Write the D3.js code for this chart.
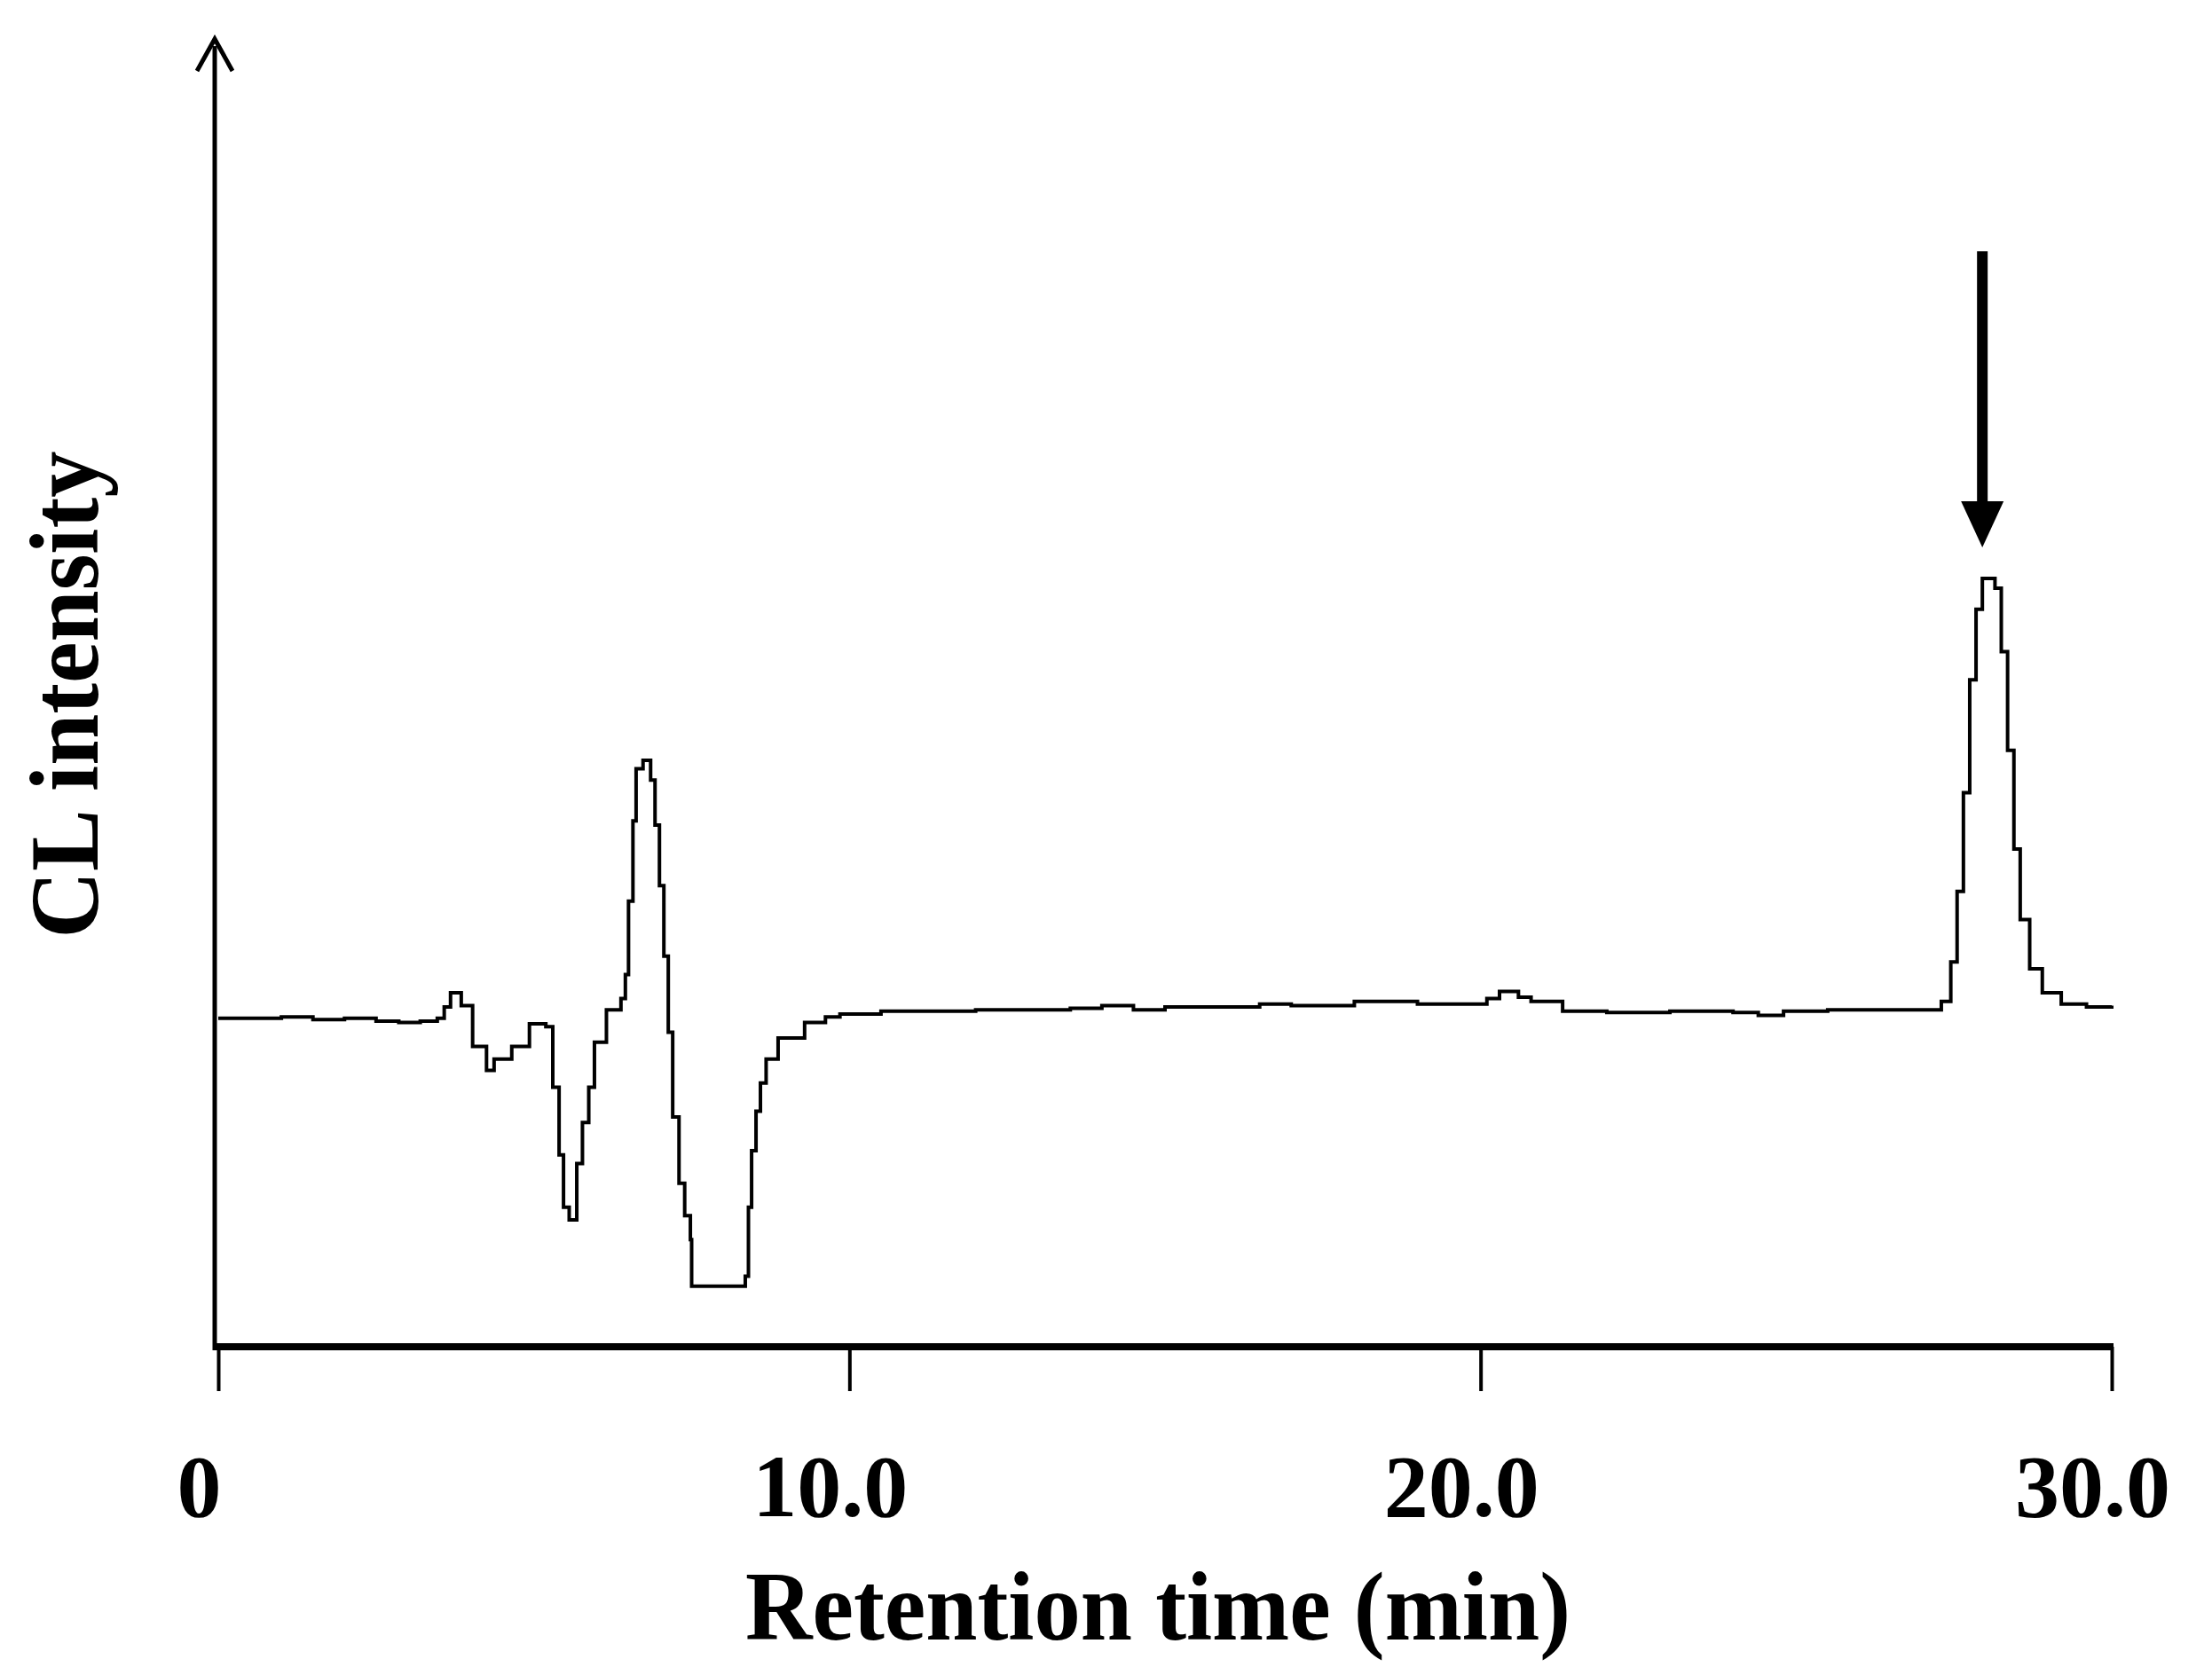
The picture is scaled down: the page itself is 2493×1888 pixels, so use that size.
<!DOCTYPE html>
<html><head><meta charset="utf-8">
<script src="https://cdn.jsdelivr.net/npm/d3@7"></script>
<style>body{margin:0;background:#fff}</style>
</head><body>
<script>
const times = [0,0.5,1,1.5,2,2.5,2.86,3.2,3.47,3.58,3.68,3.85,4.03,4.25,4.37,4.65,4.93,5.19,5.30,5.40,5.47,5.56,5.68,5.77,5.87,5.96,6.15,6.38,6.45,6.50,6.57,6.62,6.73,6.85,6.92,6.99,7.06,7.13,7.20,7.30,7.39,7.48,7.50,8.26,8.35,8.40,8.45,8.52,8.59,8.68,8.87,9.29,9.62,9.85,10.5,11,12,13,13.5,14,14.5,15,16,16.5,17,18,19,19.8,20.1,20.3,20.6,20.8,21.3,22,23,24,24.4,24.8,25.5,26.5,27,27.3,27.45,27.55,27.65,27.75,27.85,27.95,28.05,28.15,28.25,28.35,28.45,28.55,28.7,28.9,29.2,29.6,30];
const intensity = [0,0,1,-1,0,-2,-3,-2,0,8,18,9,-20,-37,-29,-20,-4,-6,-49,-97,-134,-143,-103,-74,-49,-17,6,14,31,83,140,177,183,169,137,94,44,-10,-70,-117,-140,-157,-190,-190,-183,-134,-94,-66,-46,-29,-14,-3,1,3,5,5,6,6,7,9,6,8,8,10,9,12,10,10,14,19,15,12,5,4,5,4,2,5,6,6,6,12,40,90,160,240,290,312,312,305,260,190,120,70,35,18,10,8,9];
const xTicks = [0,10,20,30];
const xTickLabels = ["0","10.0","20.0","30.0"];
const arrowTime = 27.95, arrowFrom = 544, arrowTo = 334;

const W=2493,H=1888;
const svg=d3.select("body").append("svg").attr("width",W).attr("height",H);
const x=d3.scaleLinear().domain([0,30]).range([246,2380]);
const y=d3.scaleLinear().domain([-233,692]).range([1518,48]);
const data=times.map((t,i)=>[t,intensity[i]]);
svg.append("path").datum(data).attr("fill","none").attr("stroke","#000").attr("stroke-width",4)
  .attr("d",d3.line().x(d=>x(d[0])).y(d=>y(d[1])).curve(d3.curveStepAfter));
// axes
const ax=svg.append("g").attr("transform","translate(0,1518)")
  .call(d3.axisBottom(x).tickValues(xTicks).tickFormat((d,i)=>xTickLabels[i]).tickSize(50).tickSizeOuter(0));
ax.select(".domain").attr("stroke-width",8).attr("d","M242,0H2382");
ax.selectAll(".tick line").attr("stroke-width",4);
ax.selectAll(".tick text").attr("font-family","Liberation Serif").attr("font-weight","bold")
  .attr("font-size",100).attr("y",0).attr("dy",0).attr("transform","translate(-22,191)").attr("fill","#000");
svg.append("line").attr("x1",242).attr("x2",242).attr("y1",1522).attr("y2",52).attr("stroke","#000").attr("stroke-width",5);
svg.append("path").attr("d","M222,80 L242,44 L262,80").attr("fill","none").attr("stroke","#000").attr("stroke-width",5);
// peak arrow
svg.append("line").attr("x1",x(arrowTime)).attr("x2",x(arrowTime)).attr("y1",y(arrowFrom)).attr("y2",y(arrowTo)-30)
  .attr("stroke","#000").attr("stroke-width",12);
svg.append("path").attr("fill","#000")
  .attr("d",`M${x(arrowTime)-24},${y(arrowTo)-52} L${x(arrowTime)+24},${y(arrowTo)-52} L${x(arrowTime)},${y(arrowTo)} Z`);
// labels
svg.append("text").attr("x",1305).attr("y",1848).attr("text-anchor","middle")
  .attr("font-family","Liberation Serif").attr("font-weight","bold").attr("font-size",110)
  .attr("textLength",930).attr("lengthAdjust","spacingAndGlyphs").text("Retention time (min)");
svg.append("text").attr("transform","translate(110,783) rotate(-90)").attr("text-anchor","middle")
  .attr("font-family","Liberation Serif").attr("font-weight","bold").attr("font-size",110)
  .attr("textLength",549).attr("lengthAdjust","spacingAndGlyphs").text("CL intensity");
</script>
</body></html>
